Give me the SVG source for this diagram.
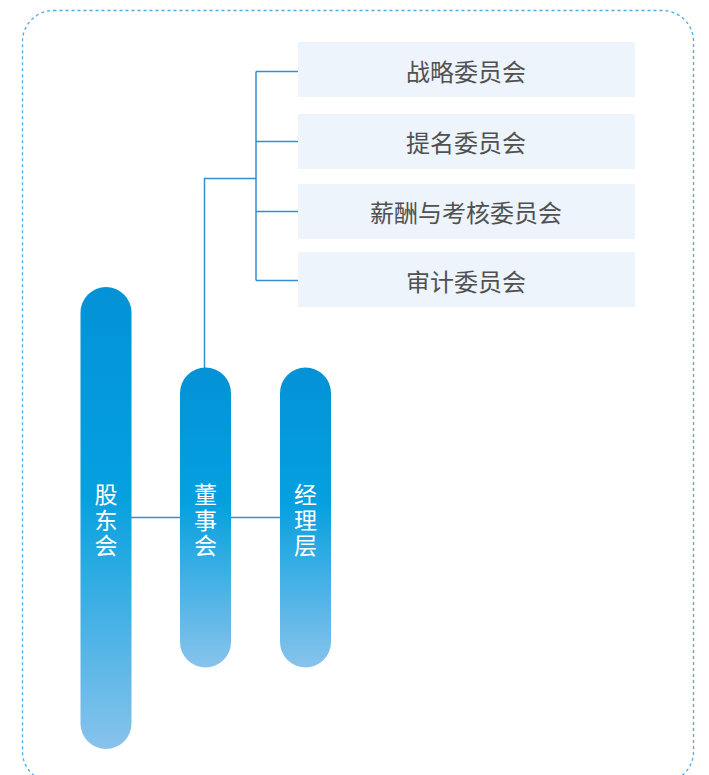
<svg xmlns="http://www.w3.org/2000/svg" width="709" height="775" viewBox="0 0 709 775">
<defs>
<linearGradient id="pillGrad" x1="0" y1="0" x2="0" y2="1">
<stop offset="0" stop-color="#0392D6"/>
<stop offset="0.45" stop-color="#05A0DF"/>
<stop offset="1" stop-color="#88C3EC"/>
</linearGradient>
<style>
.frame{fill:none;stroke:#4FA9E2;stroke-width:1.3;stroke-dasharray:3 3}
.box{fill:#EDF4FC}
.ctext{font-family:"Noto Sans CJK SC","Noto Sans",sans-serif;font-size:24px;fill:#505050;text-anchor:middle;dominant-baseline:central}
.pill{fill:url(#pillGrad)}
.ptext{font-family:"Noto Sans CJK SC","Noto Sans",sans-serif;font-size:23px;fill:#FFFFFF;text-anchor:middle;dominant-baseline:central}
.conn{fill:none;stroke:#3090D4;stroke-width:1.5}
</style>
</defs>
<rect class="frame" x="22.5" y="10.5" width="671" height="772" rx="31" ry="31"/>
<g id="connectors">
<path class="conn" d="M256,71.5 V280.5 M256,71.5 H298 M256,141.5 H298 M256,211.5 H298 M256,280.5 H298"/>
<path class="conn" d="M204.5,368 V178.5 H256"/>
<path class="conn" d="M131,517.5 H180 M231,517.5 H280"/>
</g>
<g id="c1"><rect class="box" x="298" y="42" width="337" height="55"/><text class="ctext" x="466" y="70">战略委员会</text></g>
<g id="c2"><rect class="box" x="298" y="114" width="337" height="55"/><text class="ctext" x="466" y="141.5">提名委员会</text></g>
<g id="c3"><rect class="box" x="298" y="184" width="337" height="55"/><text class="ctext" x="466" y="211.5">薪酬与考核委员会</text></g>
<g id="c4"><rect class="box" x="298" y="252" width="337" height="55"/><text class="ctext" x="466" y="280">审计委员会</text></g>
<g id="shareholders"><rect class="pill" x="80.5" y="287" width="51" height="462" rx="25.5" ry="25.5"/>
<text class="ptext" x="106" y="493">股</text><text class="ptext" x="106" y="518.5">东</text><text class="ptext" x="106" y="544">会</text></g>
<g id="board"><rect class="pill" x="180" y="367.5" width="51" height="300" rx="25.5" ry="25.5"/>
<text class="ptext" x="205.5" y="493">董</text><text class="ptext" x="205.5" y="518.5">事</text><text class="ptext" x="205.5" y="544">会</text></g>
<g id="management"><rect class="pill" x="280" y="367.5" width="51" height="300" rx="25.5" ry="25.5"/>
<text class="ptext" x="305.5" y="493">经</text><text class="ptext" x="305.5" y="518.5">理</text><text class="ptext" x="305.5" y="544">层</text></g>
</svg>
